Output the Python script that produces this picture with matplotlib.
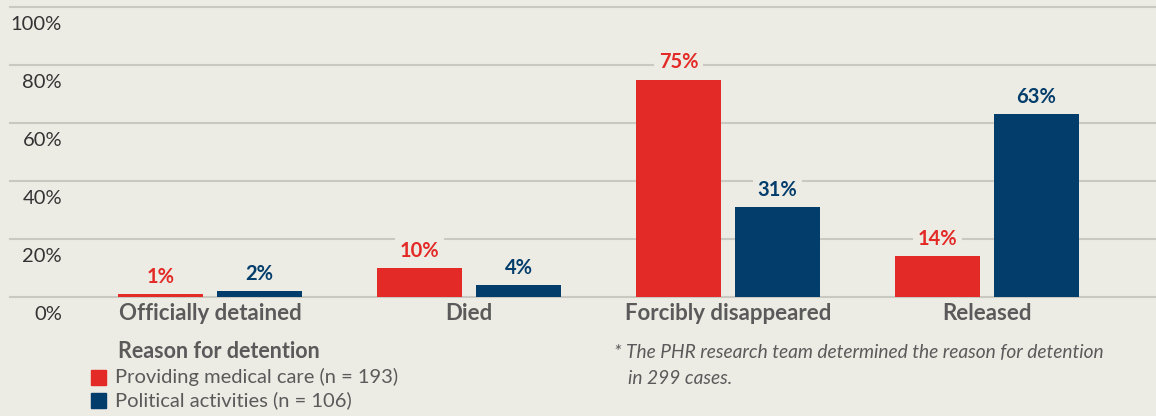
import matplotlib
matplotlib.use("Agg")
import matplotlib.pyplot as plt

categories = ["Officially detained", "Died", "Forcibly disappeared", "Released"]
medical = [1, 10, 75, 14]
political = [2, 4, 31, 63]
yticks = [0, 20, 40, 60, 80, 100]
series_labels = ["Providing medical care (n = 193)", "Political activities (n = 106)"]
legend_title = "Reason for detention"
footnote = ["* The PHR research team determined the reason for detention", "in 299 cases."]

BG = "#ECEBE4"
RED = "#E32A26"
BLUE = "#033D6B"
GRID = "#C9C8C1"
TXT = "#333333"
CAT = "#5A5A5A"
FONT = "Lato"

W, H = 1156, 416
fig = plt.figure(figsize=(W / 100, H / 100), dpi=100, facecolor=BG)

# axes: x from 10px to 1156px, y from 297px (0%) to 7px (100%)
ax = fig.add_axes([10 / W, (H - 297) / H, (W - 10) / W, 290 / H])
ax.set_facecolor(BG)
for s in ax.spines.values():
    s.set_visible(False)
ax.set_xticks([])
ax.set_yticks([])
ax.set_ylim(0, 100)
ax.set_xlim(-200 / 259, 946 / 259)

for t in yticks:
    ax.axhline(t, color=GRID, lw=1.5, zorder=0, clip_on=False)
    ax.annotate(f"{t}%", xy=(0, t), xycoords=("axes fraction", "data"),
                xytext=(52, -18), textcoords="offset pixels",
                ha="right", va="center", fontsize=14.5, color=TXT, family=FONT,
                annotation_clip=False)

off = 49.5 / 259
bw = 85 / 259
xs = list(range(len(categories)))
ax.bar([x - off for x in xs], medical, width=bw, color=RED, zorder=2)
ax.bar([x + off for x in xs], political, width=bw, color=BLUE, zorder=2)

for x, v in zip(xs, medical):
    ax.annotate(f"{v}%", xy=(x - off, v), xytext=(0, 7), textcoords="offset pixels",
                ha="center", va="bottom", fontsize=14.5, fontweight="bold", color=RED,
                family=FONT, bbox=dict(boxstyle="square,pad=0.25", fc=BG, ec="none"), zorder=3)
for x, v in zip(xs, political):
    ax.annotate(f"{v}%", xy=(x + off, v), xytext=(0, 7), textcoords="offset pixels",
                ha="center", va="bottom", fontsize=14.5, fontweight="bold", color=BLUE,
                family=FONT, bbox=dict(boxstyle="square,pad=0.25", fc=BG, ec="none"), zorder=3)

for x, c in zip(xs, categories):
    ax.annotate(c, xy=(x, 0), xytext=(0, -16), textcoords="offset pixels",
                ha="center", va="center", fontsize=16, fontweight="bold", color=CAT,
                family=FONT, annotation_clip=False)

# legend
fig.text(118 / W, 1 - 352 / H, legend_title, ha="left", va="center", fontsize=15.5,
         fontweight="bold", color=CAT, family=FONT)
for i, (lab, col) in enumerate(zip(series_labels, [RED, BLUE])):
    yc = 377 + 23 * i
    fig.patches.append(plt.Rectangle((91 / W, 1 - (yc + 8) / H), 15 / W, 15 / H,
                                     transform=fig.transFigure, color=col))
    fig.text(115 / W, 1 - yc / H, lab, ha="left", va="center", fontsize=14.5,
             color=CAT, family=FONT)

fig.text(614 / W, 1 - 353 / H, footnote[0], ha="left", va="center", fontsize=13.8,
         style="italic", color=CAT, family=FONT)
fig.text(628 / W, 1 - 378 / H, footnote[1], ha="left", va="center", fontsize=13.8,
         style="italic", color=CAT, family=FONT)

fig.savefig("out.png", dpi=100, facecolor=BG)
